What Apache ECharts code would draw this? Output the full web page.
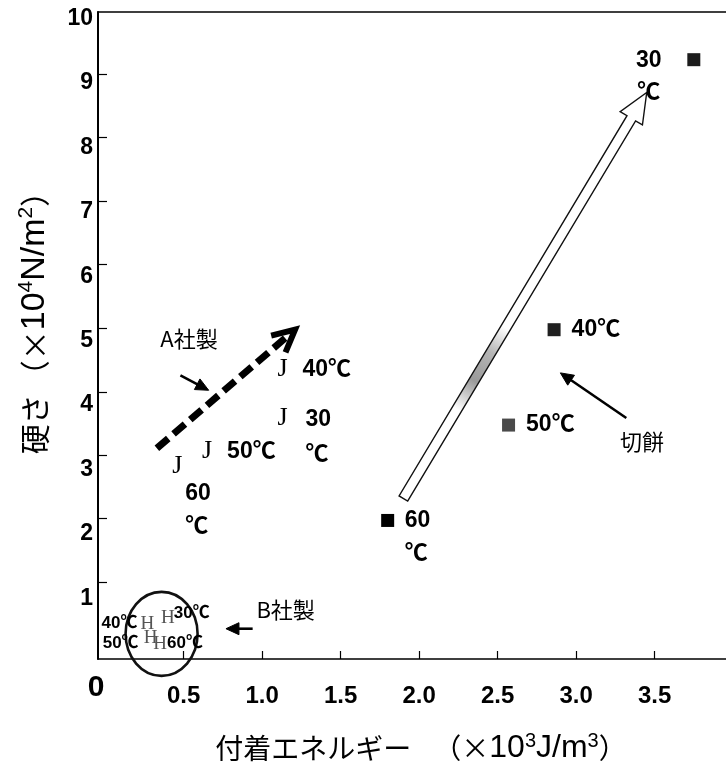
<!DOCTYPE html>
<html>
<head>
<meta charset="utf-8">
<script src="https://cdn.jsdelivr.net/npm/echarts@6/dist/echarts.min.js"></script>
<style>
  html, body { margin: 0; padding: 0; background: #fff; }
  #chart { width: 726px; height: 774px; }
</style>
</head>
<body>
<div id="chart"></div>
<script>
// Measurement temperatures (same order in every series)
const temps = ['30℃', '40℃', '50℃', '60℃'];

// 切餅 (cut rice cake)
const mochiX = [3.75, 2.86, 2.57, 1.80];
const mochiY = [9.36, 5.17, 3.69, 2.21];

// A社製
const brandAX = [1.13, 1.13, 0.65, 0.46];
const brandAY = [3.79, 4.56, 3.29, 3.05];

// B社製
const brandBX = [0.40, 0.27, 0.29, 0.35];
const brandBY = [0.69, 0.61, 0.39, 0.30];

// Axis ticks and labels
const xLabelValues = [0, 0.5, 1.0, 1.5, 2.0, 2.5, 3.0, 3.5];
const xTickValues = [0.5, 1.0, 1.5, 2.0, 2.5, 3.0, 3.5];
const yLabelValues = [1, 2, 3, 4, 5, 6, 7, 8, 9, 10];
const yTickValues = [1.25, 2.24, 3.22, 4.2, 5.19, 6.18, 7.16, 8.15, 9.13];

// Axis titles (rich text: CJK part, Latin unit part, superscripts)
const xTitle = '{c|付着エネルギー}{sp| }{c|（×}{l|10}{s|3}{l|J/m}{s|3}{c|）}';
const yTitle = '{c|硬さ}{sp| }{c|（×}{l|10}{s|4}{l|N/m}{s|2}{c|）}';

// Annotation geometry in data units
const trendA = [[0.33, 3.33], [1.21, 5.17]];       // dashed trend arrow, A社製
const trendMochi = [[1.90, 2.55], [3.45, 8.85]];   // hollow trend arrow, 切餅
const pointerA = [[0.48, 4.46], [0.66, 4.23]];
const pointerB = [[0.94, 0.53], [0.77, 0.53]];
const pointerMochi = [[3.32, 3.80], [2.90, 4.50]];
const noteA = { text: 'A社製', at: [0.535, 5.03] };
const noteB = { text: 'B社製', at: [1.15, 0.83] };
const noteMochi = { text: '切餅', at: [3.42, 3.44] };
const groupB = { center: [0.36, 0.45] };

const LATIN = '"Liberation Sans", "Noto Sans CJK JP", Arial, sans-serif';
const NARROW = '"Liberation Sans Narrow", "Liberation Sans", Arial, sans-serif';
const SERIF = '"Liberation Serif", "Times New Roman", serif';
const CJK = '"Noto Sans CJK JP", "Noto Sans", sans-serif';

// Where each temperature label sits relative to its marker
const mochiLabelCfg = [
  { formatter: '30\n℃', position: 'inside', align: 'center', offset: [-45, 17], lineHeight: 32 },
  { formatter: '40℃', position: 'right', distance: 11 },
  { formatter: '50℃', position: 'right', distance: 11 },
  { formatter: '60\n℃', position: 'inside', align: 'left', offset: [17, 17], lineHeight: 33 }
];
const aLabelCfg = [
  { formatter: '30\n℃', align: 'left', offset: [23, 18.5], lineHeight: 35 },
  { formatter: '40℃', align: 'left', offset: [20, 1] },
  { formatter: '50℃', align: 'left', offset: [20, 1] },
  { formatter: '60\n℃', align: 'left', offset: [8, 44], lineHeight: 33 }
];
const bLabelCfg = [
  { formatter: '30℃', align: 'left', offset: [6, -5] },
  { formatter: '40℃', align: 'right', offset: [-10, 0] },
  { formatter: '50℃', align: 'right', offset: [-12, 6] },
  { formatter: '60℃', align: 'left', offset: [7, 0] }
];
const mochiColors = ['#1c1c1c', '#202020', '#4a4a4a', '#000000'];

function points(xs, ys) {
  return xs.map((x, i) => [x, ys[i]]);
}

function labelled(xs, ys, cfgs) {
  return xs.map((x, i) => ({
    value: [x, ys[i]],
    name: temps[i],
    label: Object.assign({ position: 'inside' }, cfgs[i])
  }));
}

// Drawing helpers for the annotation layer
function arrowHead(tip, from, len, half) {
  const dx = tip[0] - from[0], dy = tip[1] - from[1];
  const d = Math.hypot(dx, dy);
  const ux = dx / d, uy = dy / d, nx = -uy, ny = ux;
  const bx = tip[0] - ux * len, by = tip[1] - uy * len;
  return [[bx + nx * half, by + ny * half], tip, [bx - nx * half, by - ny * half]];
}

function pointer(api, seg) {
  const p0 = api.coord(seg[0]), p1 = api.coord(seg[1]);
  const head = arrowHead(p1, p0, 13, 6);
  const dx = p1[0] - p0[0], dy = p1[1] - p0[1], d = Math.hypot(dx, dy);
  const end = [p1[0] - dx / d * 10, p1[1] - dy / d * 10];
  return [
    { type: 'line', shape: { x1: p0[0], y1: p0[1], x2: end[0], y2: end[1] },
      style: { stroke: '#000', lineWidth: 2.6 } },
    { type: 'polygon', shape: { points: head }, style: { fill: '#000', stroke: '#000', lineWidth: 1 } }
  ];
}

function note(api, n) {
  const p = api.coord(n.at);
  return { type: 'text', style: { text: n.text, x: p[0], y: p[1], fill: '#000',
    fontSize: 22, fontFamily: CJK, align: 'center', verticalAlign: 'middle' } };
}

function renderAnnotations(params, api) {
  const children = [];

  // Ellipse around the B社製 group
  const c = api.coord(groupB.center);
  children.push({ type: 'ellipse', shape: { cx: c[0], cy: c[1], rx: 36, ry: 42 },
    style: { fill: 'none', stroke: '#111', lineWidth: 2.6 } });

  // Dashed trend arrow for A社製
  const a0 = api.coord(trendA[0]), a1 = api.coord(trendA[1]);
  const adx = a1[0] - a0[0], ady = a1[1] - a0[1], ad = Math.hypot(adx, ady);
  const aEnd = [a1[0] - adx / ad * 8, a1[1] - ady / ad * 8];
  children.push({ type: 'line', shape: { x1: a0[0], y1: a0[1], x2: aEnd[0], y2: aEnd[1] },
    style: { stroke: '#000', lineWidth: 7, lineDash: [15, 7], lineCap: 'butt' } });
  children.push({ type: 'polyline', shape: { points: arrowHead(a1, a0, 22, 11) },
    style: { stroke: '#000', lineWidth: 6, fill: 'none', lineJoin: 'miter' } });

  // Hollow trend arrow for 切餅
  const m0 = api.coord(trendMochi[0]), m1 = api.coord(trendMochi[1]);
  const mdx = m1[0] - m0[0], mdy = m1[1] - m0[1], md = Math.hypot(mdx, mdy);
  const ux = mdx / md, uy = mdy / md, nx = -uy, ny = ux;
  const w = 5, W = 13, L = 30;
  const bx = m1[0] - ux * L, by = m1[1] - uy * L;
  const outline = [
    [m0[0] + nx * w, m0[1] + ny * w],
    [bx + nx * w, by + ny * w],
    [bx + nx * W, by + ny * W],
    m1,
    [bx - nx * W, by - ny * W],
    [bx - nx * w, by - ny * w],
    [m0[0] - nx * w, m0[1] - ny * w]
  ];
  const fill = new echarts.graphic.LinearGradient(m0[0], m0[1], m1[0], m1[1], [
    { offset: 0, color: '#ffffff' },
    { offset: 0.22, color: '#ffffff' },
    { offset: 0.29, color: '#9a9a9a' },
    { offset: 0.36, color: '#b5b5b5' },
    { offset: 0.42, color: '#ffffff' },
    { offset: 1, color: '#ffffff' }
  ], true);
  children.push({ type: 'polygon', shape: { points: outline },
    style: { fill: fill, stroke: '#111', lineWidth: 1.4 } });

  // Pointer arrows with their captions
  children.push(...pointer(api, pointerA), note(api, noteA));
  children.push(...pointer(api, pointerB), note(api, noteB));
  children.push(...pointer(api, pointerMochi), note(api, noteMochi));

  return { type: 'group', children: children };
}

const chart = echarts.init(document.getElementById('chart'), null, { renderer: 'canvas' });

const hidden = { color: 'rgba(0,0,0,0)', opacity: 1 };

const option = {
  backgroundColor: '#ffffff',
  animation: false,
  grid: { left: 98, right: 0, top: 12, bottom: 115 },
  xAxis: [
    {
      type: 'value',
      min: -0.045,
      max: 3.955,
      name: xTitle,
      nameLocation: 'middle',
      nameGap: 72,
      nameTextStyle: {
        color: '#000',
        padding: [0, 0, 0, 18],
        rich: {
          c: { fontFamily: CJK, fontSize: 28, color: '#000', lineHeight: 34 },
          sp: { width: 22 },
          l: { fontFamily: LATIN, fontSize: 32, color: '#000', lineHeight: 34 },
          s: { fontFamily: LATIN, fontSize: 20, color: '#000', verticalAlign: 'top', lineHeight: 34 }
        }
      },
      axisLine: { show: true, onZero: false, lineStyle: { color: '#000', width: 1.5 } },
      axisTick: { show: true, inside: true, length: 8, customValues: xTickValues,
        lineStyle: { color: '#000', width: 1.2 } },
      axisLabel: {
        show: true,
        customValues: xLabelValues,
        margin: 25,
        color: '#000',
        fontFamily: NARROW,
        fontWeight: 'bold',
        fontSize: 24,
        formatter: v => (v === 0 ? '{z|0}' : v.toFixed(1)),
        rich: { z: { fontFamily: LATIN, fontWeight: 'bold', fontSize: 30, lineHeight: 8,
          color: '#000', padding: [0, 18, 0, 0] } }
      },
      splitLine: { show: false }
    },
    {
      type: 'value',
      position: 'top',
      min: -0.045,
      max: 3.955,
      axisLine: { show: true, onZero: false, lineStyle: { color: '#000', width: 1.5 } },
      axisTick: { show: false },
      axisLabel: { show: false },
      splitLine: { show: false }
    }
  ],
  yAxis: {
    type: 'value',
    min: 0.06,
    max: 10.1,
    name: yTitle,
    nameLocation: 'middle',
    nameGap: 44,
    nameRotate: 90,
    nameTextStyle: {
      color: '#000',
      padding: [0, 0, 0, 40],
      rich: {
        c: { fontFamily: CJK, fontSize: 30, color: '#000', lineHeight: 38 },
        sp: { width: 4 },
        l: { fontFamily: LATIN, fontSize: 34, color: '#000', lineHeight: 38 },
        s: { fontFamily: LATIN, fontSize: 21, color: '#000', verticalAlign: 'top', lineHeight: 38 }
      }
    },
    axisLine: { show: true, onZero: false, lineStyle: { color: '#000', width: 2 } },
    axisTick: { show: true, inside: true, length: 9, customValues: yTickValues,
      lineStyle: { color: '#000', width: 1.2 } },
    axisLabel: {
      show: true,
      customValues: yLabelValues,
      margin: 5,
      color: '#000',
      fontFamily: LATIN,
      fontWeight: 'bold',
      fontSize: 23
    },
    splitLine: { show: false }
  },
  series: [
    {
      name: 'annotations',
      type: 'custom',
      silent: true,
      clip: false,
      z: 1,
      data: [[0, 0]],
      renderItem: renderAnnotations
    },
    {
      name: '切餅',
      type: 'scatter',
      symbol: 'rect',
      symbolSize: 13,
      z: 3,
      itemStyle: { opacity: 1 },
      data: labelled(mochiX, mochiY, mochiLabelCfg).map((d, i) =>
        Object.assign(d, { itemStyle: { color: mochiColors[i], opacity: 1 } })),
      label: { show: true, color: '#000', fontFamily: LATIN, fontWeight: 'bold', fontSize: 23 }
    },
    {
      name: 'A社製',
      type: 'scatter',
      symbolSize: 2,
      itemStyle: hidden,
      z: 3,
      data: points(brandAX, brandAY),
      label: { show: true, position: 'inside', formatter: 'J', color: '#000',
        fontFamily: SERIF, fontSize: 26 }
    },
    {
      name: 'A社製 温度',
      type: 'scatter',
      symbolSize: 2,
      itemStyle: hidden,
      z: 3,
      data: labelled(brandAX, brandAY, aLabelCfg),
      label: { show: true, color: '#000', fontFamily: LATIN, fontWeight: 'bold', fontSize: 23 }
    },
    {
      name: 'B社製',
      type: 'scatter',
      symbolSize: 2,
      itemStyle: hidden,
      z: 3,
      data: points(brandBX, brandBY),
      label: { show: true, position: 'inside', formatter: 'H', color: '#555',
        fontFamily: SERIF, fontSize: 19 }
    },
    {
      name: 'B社製 温度',
      type: 'scatter',
      symbolSize: 2,
      itemStyle: hidden,
      z: 3,
      data: labelled(brandBX, brandBY, bLabelCfg),
      label: { show: true, color: '#000', fontFamily: LATIN, fontWeight: 'bold', fontSize: 17 }
    }
  ]
};

chart.setOption(option);
</script>
</body>
</html>
